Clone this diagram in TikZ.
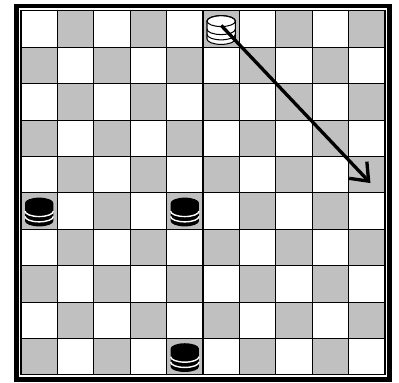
\documentclass[tikz,border=0pt]{standalone}
\usepackage{tikz}
\usetikzlibrary{arrows.meta}
\definecolor{boardgray}{HTML}{C0C0C0}

% stack of checkers, dark and light
\newcommand{\blackstack}[1]{%
	\begin{scope}[shift={#1}]
	\fill [black] (-0.39,0.22) -- (-0.39,-0.27) arc (180:360:0.39 and 0.15) -- (0.39,0.22) arc (0:180:0.39 and 0.15) -- cycle;
	\draw [white, line width=1.1pt] (-0.39,0) arc (180:360:0.39 and 0.15);
	\draw [white, line width=1.1pt] (-0.39,-0.145) arc (180:360:0.39 and 0.15);
	\end{scope}}
\newcommand{\whitestack}[1]{%
	\begin{scope}[shift={#1}]
	\draw [fill = white, line width=0.8pt] (-0.39,0.22) -- (-0.39,-0.27) arc (180:360:0.39 and 0.15) -- (0.39,0.22) arc (0:180:0.39 and 0.15) -- cycle;
	\draw [line width=0.8pt] (0,0.22) ellipse (0.39cm and 0.15cm);
	\draw [line width=0.8pt] (-0.39,0) arc (180:360:0.39 and 0.15);
	\draw [line width=0.8pt] (-0.39,-0.145) arc (180:360:0.39 and 0.15);
	\end{scope}}

\begin{document}
\begin{tikzpicture}
	\useasboundingbox (-0.577,-0.22) rectangle (10.385,10.30);
	% squares
	\foreach \i in {0,...,9}
		\foreach \j in {0,...,9}
		{
			\pgfmathparse{int(mod(\i+\j,2))}
			\ifnum\pgfmathresult=0 \fill [boardgray] (\i,\j) rectangle ++(1,1); \fi
		}
	\draw [line width=0.8pt] (0,0) grid (10,10);
	\draw [line width=0.9pt] (0,0) rectangle (10,10);
	\draw [line width=3.5pt] (-0.13,-0.13) rectangle (10.13,10.13);
	% pieces
	\whitestack{(5.5,9.5)}
	\blackstack{(0.5,4.5)}
	\blackstack{(4.5,4.5)}
	\blackstack{(4.5,0.5)}
	% move
	\coordinate (start) at (5.5,9.6);
	\coordinate (goal) at (9.6,5.27);
	\draw [line width=2.6pt, -{Straight Barb[length=12pt,width=19pt]}] (start) -- (goal);
\end{tikzpicture}
\end{document}
